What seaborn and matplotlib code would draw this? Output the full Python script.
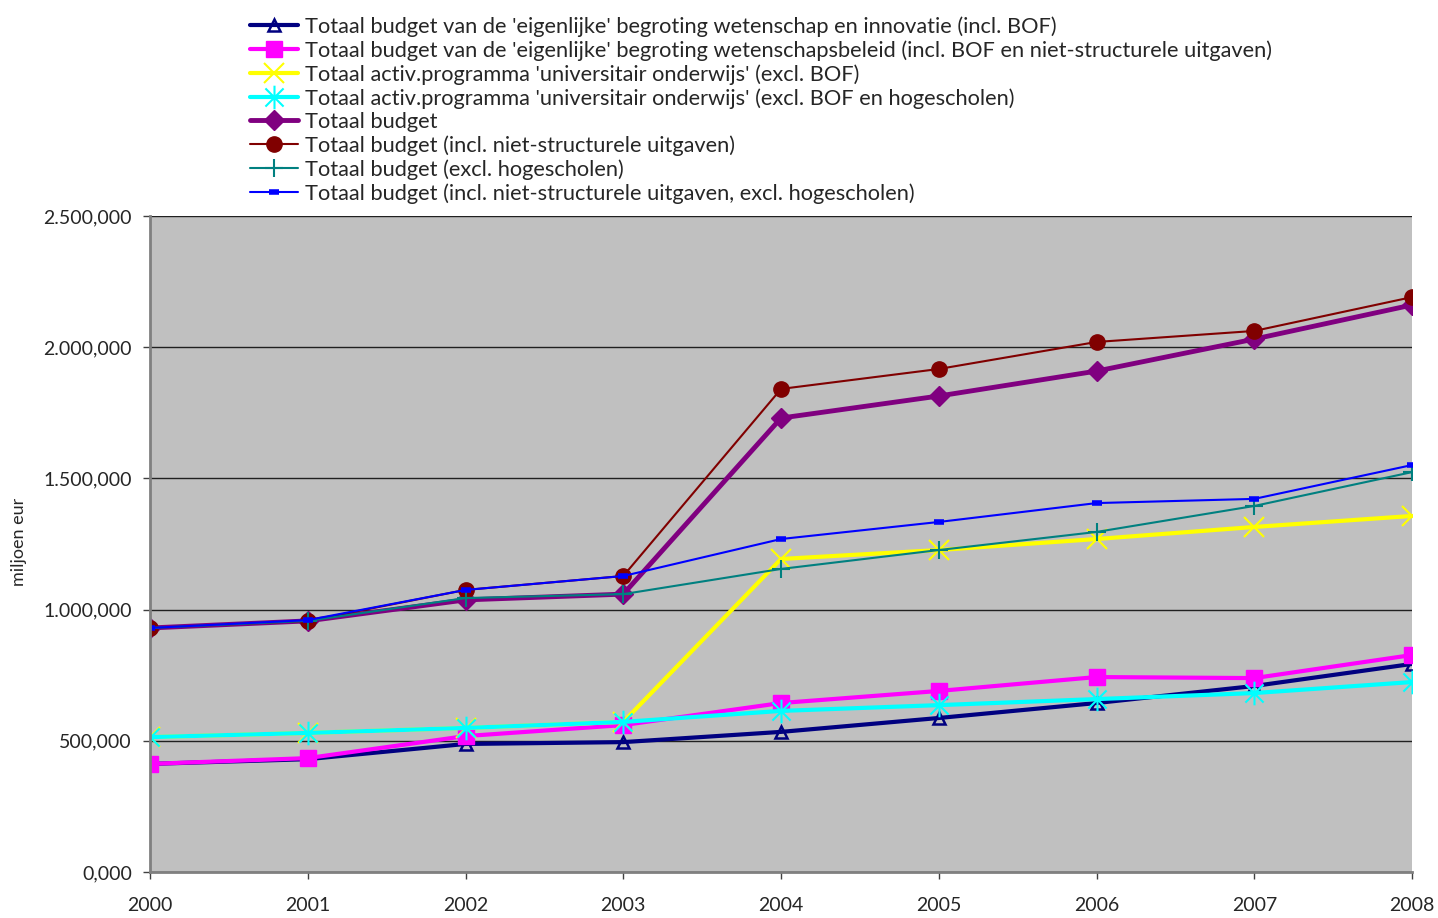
import numpy as np
import pandas as pd
import matplotlib
matplotlib.use("Agg")
import matplotlib.pyplot as plt
from matplotlib.ticker import FuncFormatter
from matplotlib.path import Path
import seaborn as sns

sns.set_theme(style="white")
plt.rcParams['font.family'] = ['Lato', 'DejaVu Sans']

years = [2000, 2001, 2002, 2003, 2004, 2005, 2006, 2007, 2008]

wi_incl_bof = [412, 430, 488, 495, 534, 587, 644, 709, 793]
wb_incl_bof_ns = [412, 434, 518, 560, 644, 690, 743, 739, 827]
uo_excl_bof = [514, 530, 549, 572, 1193, 1227, 1269, 1315, 1357]
uo_excl_bof_hs = [514, 530, 549, 572, 614, 636, 659, 682, 724]
totaal = [930, 957, 1037, 1059, 1730, 1814, 1909, 2031, 2161]
totaal_ns = [930, 957, 1075, 1128, 1841, 1917, 2020, 2062, 2191]
totaal_excl_hs = [930, 957, 1044, 1059, 1155, 1227, 1296, 1395, 1524]
totaal_ns_excl_hs = [930, 960, 1075, 1128, 1269, 1334, 1406, 1422, 1551]

labels = [
    "Totaal budget van de 'eigenlijke' begroting wetenschap en innovatie (incl. BOF)",
    "Totaal budget van de 'eigenlijke' begroting wetenschapsbeleid (incl. BOF en niet-structurele uitgaven)",
    "Totaal activ.programma 'universitair onderwijs' (excl. BOF)",
    "Totaal activ.programma 'universitair onderwijs' (excl. BOF en hogescholen)",
    "Totaal budget",
    "Totaal budget (incl. niet-structurele uitgaven)",
    "Totaal budget (excl. hogescholen)",
    "Totaal budget (incl. niet-structurele uitgaven, excl. hogescholen)",
]
series = [wi_incl_bof, wb_incl_bof_ns, uo_excl_bof, uo_excl_bof_hs,
          totaal, totaal_ns, totaal_excl_hs, totaal_ns_excl_hs]

# excel style star: X plus a vertical stroke
star = Path([(-1, -1), (1, 1), (-1, 1), (1, -1), (0, -1.3), (0, 1.3)],
            [Path.MOVETO, Path.LINETO, Path.MOVETO, Path.LINETO, Path.MOVETO, Path.LINETO])

styles = [
    dict(color="#000080", lw=3.0, marker="^", ms=8, mfc="none", mec="#000080", mew=1.8),
    dict(color="#FF00FF", lw=3.0, marker="s", ms=11, mfc="#FF00FF", mec="#FF00FF", mew=1),
    dict(color="#FFFF00", lw=3.0, marker="x", ms=15, mfc="#FFFF00", mec="#FFFF00", mew=1.5),
    dict(color="#00FFFF", lw=3.0, marker=star, ms=17, mfc="none", mec="#00FFFF", mew=1.5),
    dict(color="#800080", lw=3.5, marker="D", ms=10, mfc="#800080", mec="#800080", mew=1),
    dict(color="#800000", lw=1.5, marker="o", ms=11, mfc="#800000", mec="#800000", mew=1),
    dict(color="#008080", lw=1.5, marker="+", ms=13, mfc="#008080", mec="#008080", mew=1.5),
    dict(color="#0000FF", lw=1.5, marker="_", ms=7, mfc="#0000FF", mec="#0000FF", mew=4),
]

fig = plt.figure(figsize=(14.38, 9.18), dpi=100)
ax = fig.add_axes([0.1043, 0.0501, 0.8777, 0.7146])
ax.set_facecolor("#C0C0C0")

for vals, lab, st in zip(series, labels, styles):
    df = pd.DataFrame({"jaar": years, "waarde": vals})
    sns.lineplot(data=df, x="jaar", y="waarde", ax=ax, label=lab,
                 color=st["color"], linewidth=st["lw"], marker=st["marker"],
                 markersize=st["ms"], markerfacecolor=st["mfc"],
                 markeredgecolor=st["mec"], markeredgewidth=st["mew"])

ax.set_xlim(2000, 2008)
ax.set_ylim(0, 2500)
ax.set_xticks(years)
ax.set_yticks([0, 500, 1000, 1500, 2000, 2500])

def nl_fmt(v, pos):
    s = f"{v:,.3f}"
    return s.replace(",", "#").replace(".", ",").replace("#", ".")

ax.yaxis.set_major_formatter(FuncFormatter(nl_fmt))
ax.grid(axis="y", color="#202020", lw=1)
ax.set_axisbelow(True)
for side in ["top", "right"]:
    ax.spines[side].set_visible(False)
for side in ["left", "bottom"]:
    ax.spines[side].set_color("#808080")
    ax.spines[side].set_linewidth(2)
ax.tick_params(axis="both", which="major", direction="out", length=5, width=1,
               color="#404040", labelsize=14, left=True, bottom=True)
ax.tick_params(axis="y", pad=8)
ax.tick_params(axis="x", pad=13)
ax.set_xlabel("")
ax.set_ylabel("miljoen eur", fontsize=13)
ax.yaxis.set_label_coords(-0.0975, 0.503)

ax.get_legend().remove()
h, l = ax.get_legend_handles_labels()
fig.legend(h, l, loc="upper left", bbox_to_anchor=(0.174, 0.982), frameon=False,
           fontsize=15.7, handlelength=2.2, handletextpad=0.3, labelspacing=0.15,
           borderaxespad=0, borderpad=0)

fig.savefig("out.png", dpi=100)
